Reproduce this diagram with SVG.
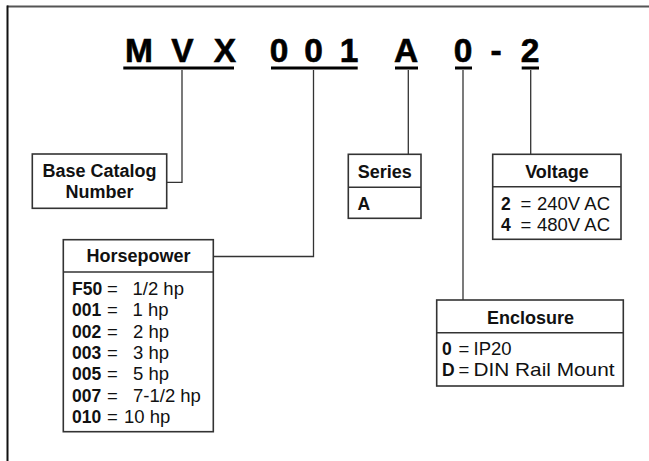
<svg xmlns="http://www.w3.org/2000/svg" width="649" height="461" viewBox="0 0 649 461">
<style>
.t{font-family:"Liberation Sans",Arial,sans-serif;fill:#111}
.title{font-size:33.5px;font-weight:bold;text-anchor:middle;fill:#000;stroke:#000;stroke-width:0.6}
.h{font-size:18px;font-weight:bold;text-anchor:middle}
.b{font-size:17.5px;font-weight:bold}
.r{font-size:18.5px}
.box{fill:#fff;stroke:#333;stroke-width:1.6}
.div{stroke:#333;stroke-width:1.6}
.con{fill:none;stroke:#333;stroke-width:1.3}
.ul{fill:#000}
</style>
<rect width="649" height="461" fill="#fff"/>
<path d="M649 6.5H7" stroke="#555" stroke-width="2" fill="none"/>
<path d="M7.5 5.5V461" stroke="#111" stroke-width="2" fill="none"/>
<g id="title" class="t title">
<text x="139" y="62">M</text>
<text x="182.5" y="62">V</text>
<text x="225" y="62">X</text>
<text x="279" y="62">0</text>
<text x="313.5" y="62">0</text>
<text x="349" y="62">1</text>
<text x="406" y="62">A</text>
<text x="463" y="62">0</text>
<text x="496" y="62">-</text>
<text x="530" y="62">2</text>
</g>
<g id="underlines" class="ul">
<rect x="123.3" y="66.5" width="110.7" height="3"/>
<rect x="271" y="66.5" width="86.7" height="3"/>
<rect x="395" y="66.5" width="23" height="3"/>
<rect x="455" y="66.5" width="17" height="3"/>
<rect x="521.7" y="66.5" width="17.3" height="3"/>
</g>
<g id="connectors" class="con">
<path d="M182 70V182.3H167"/>
<path d="M313.5 70V256.5H213.3"/>
<path d="M408.3 70V154.3"/>
<path d="M463 70V300"/>
<path d="M530.7 70V154.3"/>
</g>
<g id="base-catalog">
<rect class="box" x="32.3" y="154" width="134.4" height="54.3"/>
<text class="t h" x="99.5" y="177">Base Catalog</text>
<text class="t h" x="99.5" y="198">Number</text>
</g>
<g id="horsepower">
<rect class="box" x="63.3" y="239.7" width="150" height="192"/>
<line class="div" x1="63.3" y1="272" x2="213.3" y2="272"/>
<text class="t h" x="138.5" y="262">Horsepower</text>
<g class="t">
<text class="b" x="72" y="295">F50</text><text class="r" x="107" y="295">=</text><text class="r" x="132.5" y="295">1/2 hp</text>
<text class="b" x="72" y="316.3">001</text><text class="r" x="107" y="316.3">=</text><text class="r" x="132.5" y="316.3">1 hp</text>
<text class="b" x="72" y="337.7">002</text><text class="r" x="107" y="337.7">=</text><text class="r" x="133" y="337.7">2 hp</text>
<text class="b" x="72" y="359">003</text><text class="r" x="107" y="359">=</text><text class="r" x="133" y="359">3 hp</text>
<text class="b" x="72" y="380.3">005</text><text class="r" x="107" y="380.3">=</text><text class="r" x="133" y="380.3">5 hp</text>
<text class="b" x="72" y="401.7">007</text><text class="r" x="107" y="401.7">=</text><text class="r" x="133" y="401.7">7-1/2 hp</text>
<text class="b" x="72" y="423">010</text><text class="r" x="107" y="423">=</text><text class="r" x="124" y="423">10 hp</text>
</g>
</g>
<g id="series">
<rect class="box" x="348.3" y="154.3" width="72.7" height="64"/>
<line class="div" x1="348.3" y1="187.3" x2="421" y2="187.3"/>
<text class="t h" x="384.7" y="177.5">Series</text>
<text class="t b" x="357.5" y="209.5">A</text>
</g>
<g id="voltage">
<rect class="box" x="492.7" y="154.3" width="128.3" height="85"/>
<line class="div" x1="492.7" y1="186.7" x2="621" y2="186.7"/>
<text class="t h" x="557" y="177.5">Voltage</text>
<g class="t">
<text class="b" x="501" y="209.5">2</text><text class="r" x="520.5" y="209.5">=</text><text class="r" x="537" y="209.5">240V AC</text>
<text class="b" x="501" y="230.5">4</text><text class="r" x="520.5" y="230.5">=</text><text class="r" x="537" y="230.5">480V AC</text>
</g>
</g>
<g id="enclosure">
<rect class="box" x="436.7" y="300" width="186.6" height="86"/>
<line class="div" x1="436.7" y1="332.7" x2="623.3" y2="332.7"/>
<text class="t h" x="530.5" y="323.5">Enclosure</text>
<g class="t">
<text class="b" x="442" y="355">0</text><text class="r" x="458.5" y="355">=</text><text class="r" x="473.5" y="355">IP20</text>
<text class="b" x="442" y="375.5">D</text><text class="r" x="458.5" y="375.5">=</text><text class="r" x="473.5" y="375.5" textLength="141" lengthAdjust="spacingAndGlyphs">DIN Rail Mount</text>
</g>
</g>
</svg>
